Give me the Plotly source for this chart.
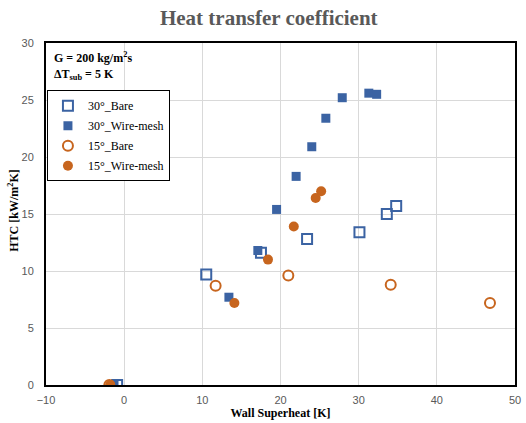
import plotly.graph_objects as go

# 30° Bare (open squares)
bare30_x = [-0.9, 10.5, 17.5, 23.4, 30.1, 33.6, 34.8]
bare30_y = [0.0, 9.7, 11.6, 12.8, 13.4, 15.0, 15.7]
# 30° Wire-mesh (filled squares)
wm30_x = [-1.3, 13.4, 17.1, 19.5, 22.0, 24.0, 25.8, 27.9, 31.3, 32.3]
wm30_y = [0.0, 7.7, 11.8, 15.4, 18.3, 20.9, 23.4, 25.2, 25.6, 25.5]
# 15° Bare (open circles)
bare15_x = [-1.9, 11.7, 21.0, 34.1, 46.8]
bare15_y = [0.0, 8.7, 9.6, 8.8, 7.2]
# 15° Wire-mesh (filled circles)
wm15_x = [-1.8, 14.1, 18.4, 21.7, 24.5, 25.2]
wm15_y = [0.0, 7.2, 11.0, 13.9, 16.4, 17.0]

BLUE = "#3B63A3"
ORANGE = "#C7651E"
SERIF = "Liberation Serif"

fig = go.Figure()
fig.add_trace(go.Scatter(x=bare30_x, y=bare30_y, mode="markers", name="30°_Bare", legendgroup="a",
                         marker=dict(symbol="square-open", size=10, color=BLUE, line=dict(width=2, color=BLUE))))
fig.add_trace(go.Scatter(x=wm30_x, y=wm30_y, mode="markers", name="30°_Wire-mesh", legendgroup="b",
                         marker=dict(symbol="square", size=9, color=BLUE)))
fig.add_trace(go.Scatter(x=bare15_x, y=bare15_y, mode="markers", name="15°_Bare", legendgroup="c",
                         marker=dict(symbol="circle-open", size=10, color=ORANGE, line=dict(width=2, color=ORANGE))))
fig.add_trace(go.Scatter(x=wm15_x, y=wm15_y, mode="markers", name="15°_Wire-mesh", legendgroup="d",
                         marker=dict(symbol="circle", size=10, color=ORANGE)))

fig.update_layout(
    width=526, height=423,
    margin=dict(l=46, r=5, t=43, b=38),
    paper_bgcolor="white", plot_bgcolor="white",
    title=dict(text="<b>Heat transfer coefficient</b>", x=0.511, xref="container", xanchor="center",
               y=0.958, yref="container", yanchor="middle",
               font=dict(family=SERIF, size=21, color="#595959")),
    xaxis=dict(range=[-10, 50], dtick=10, showgrid=True, gridcolor="#D9D9D9", gridwidth=1,
               showline=True, mirror=True, linecolor="black", linewidth=2, zeroline=False,
               ticks="outside", ticklen=4, tickcolor="rgba(0,0,0,0)",
               tickfont=dict(family="Liberation Sans", size=11, color="#595959"),
               title=dict(text="<b>Wall Superheat [K]</b>", standoff=3,
                          font=dict(family=SERIF, size=12, color="black"))),
    yaxis=dict(range=[0, 30], dtick=5, showgrid=True, gridcolor="#D9D9D9", gridwidth=1,
               showline=True, mirror=True, linecolor="black", linewidth=2, zeroline=False,
               ticks="outside", ticklen=8, tickcolor="rgba(0,0,0,0)",
               tickfont=dict(family="Liberation Sans", size=11, color="#595959")),
    legend=dict(x=0.002, y=0.862, xanchor="left", yanchor="top",
                bordercolor="black", borderwidth=1, bgcolor="white",
                font=dict(family=SERIF, size=12, color="black"),
                itemwidth=30, tracegroupgap=1, traceorder="grouped"),
    showlegend=True,
    annotations=[
        dict(text="<b>G = 200 kg/m<sup>2</sup>s<br>ΔT<sub>sub</sub> = 5 K</b>",
             xref="paper", yref="paper", x=0.012, y=0.985, xanchor="left", yanchor="top",
             align="left", showarrow=False,
             font=dict(family=SERIF, size=12, color="black")),
        dict(text="<b>HTC [kW/m<sup>2</sup>K]</b>", textangle=-90,
             xref="paper", yref="paper", x=-0.07, y=0.51, xanchor="center", yanchor="middle",
             showarrow=False, font=dict(family=SERIF, size=12, color="black")),
    ],
)

fig.write_html("out.html")
